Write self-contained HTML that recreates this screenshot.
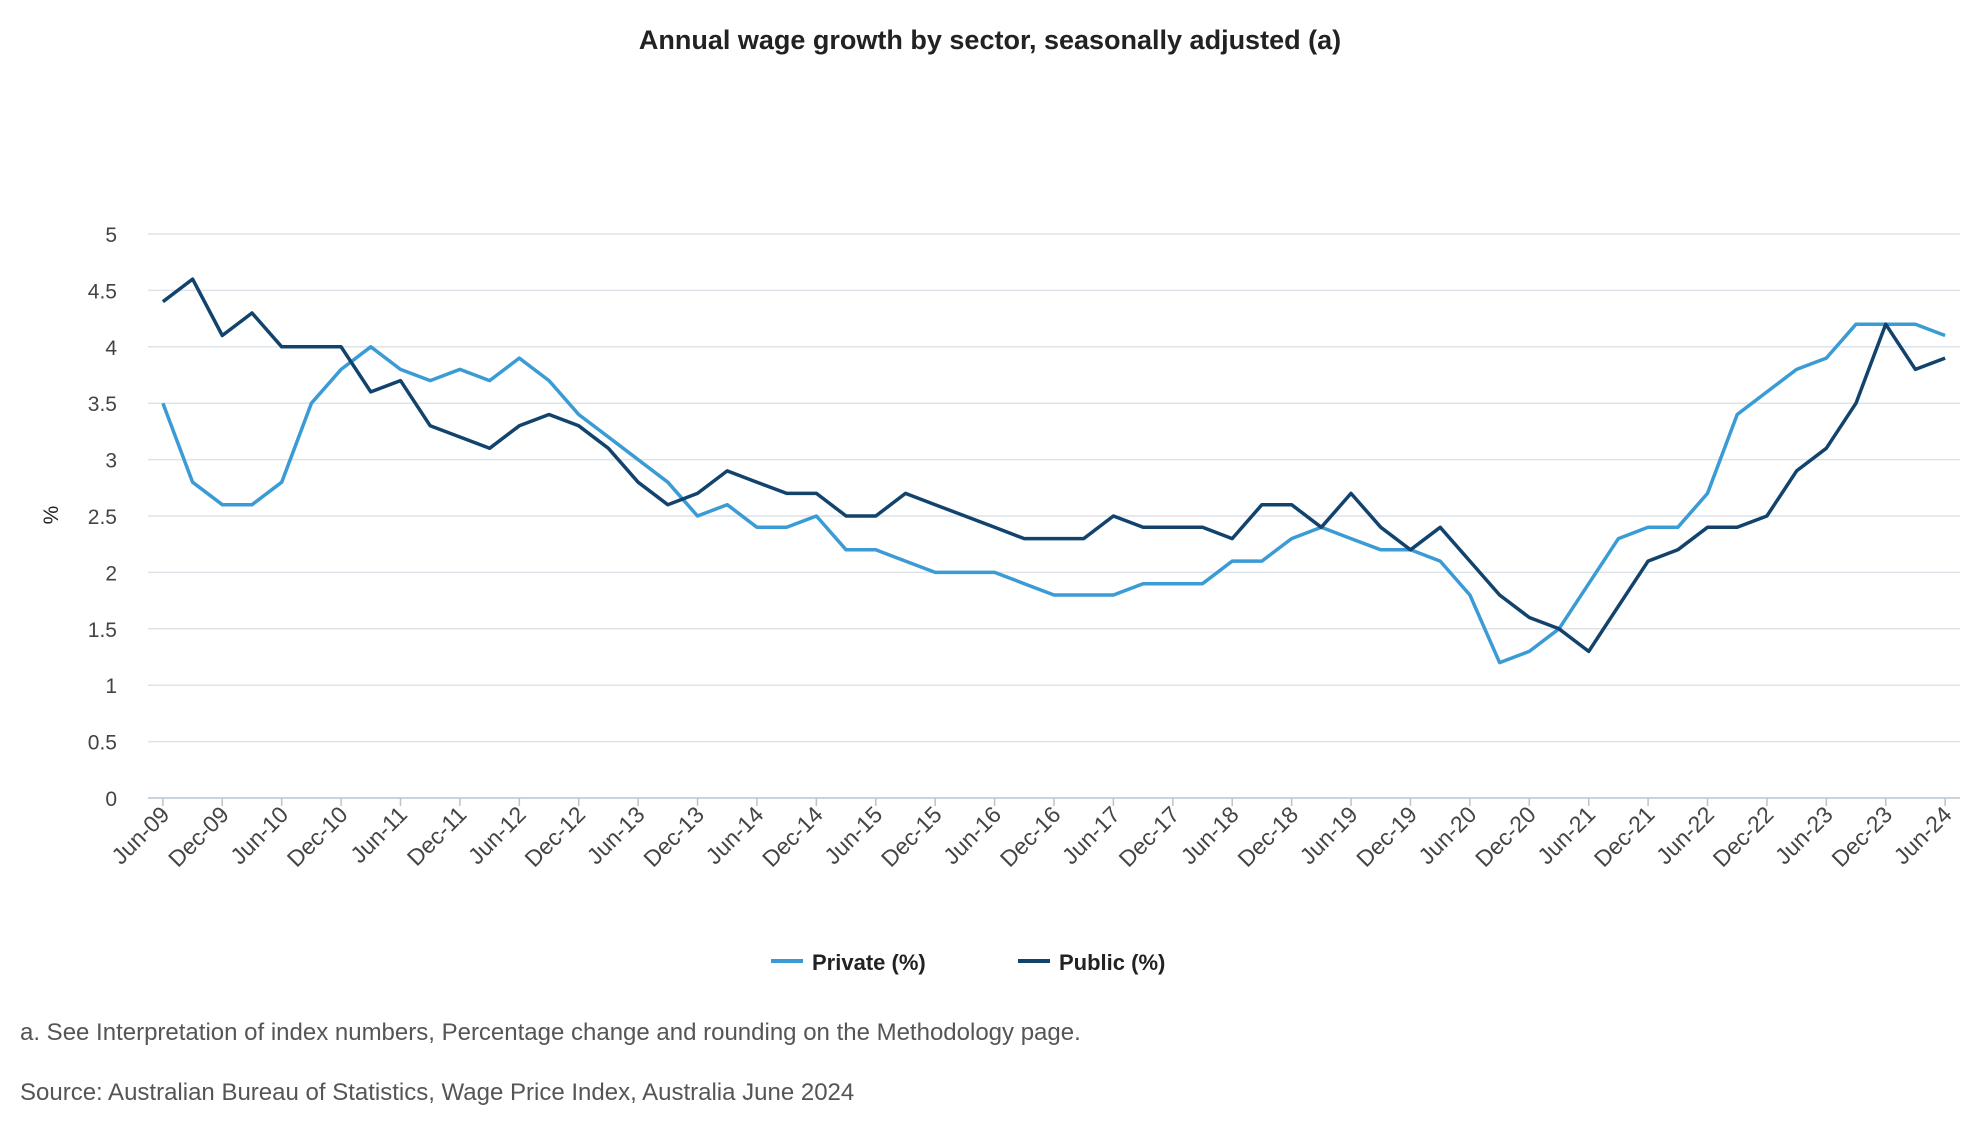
<!DOCTYPE html>
<html><head><meta charset="utf-8"><style>
html,body{margin:0;padding:0;background:#fff;}
svg{display:block;font-family:"Liberation Sans",sans-serif;}
</style></head><body>
<svg id="chart" width="1980" height="1140" viewBox="0 0 1980 1140" xmlns="http://www.w3.org/2000/svg">
<text x="990" y="49" text-anchor="middle" font-size="27" font-weight="bold" fill="#222">Annual wage growth by sector, seasonally adjusted (a)</text>
<g id="grid"></g>
<g id="yticks"></g>
<text transform="translate(58,515) rotate(-90)" text-anchor="middle" font-size="21" fill="#222">%</text>
<g id="xticks"></g>
<g id="series"></g>
<g>
<g><line x1="771" y1="961" x2="803" y2="961" stroke="#3a9bd5" stroke-width="4"/><text x="812" y="970" font-size="22" font-weight="bold" fill="#222">Private (%)</text></g>
<g><line x1="1018" y1="961" x2="1050" y2="961" stroke="#12436d" stroke-width="4"/><text x="1059" y="970" font-size="22" font-weight="bold" fill="#222">Public (%)</text></g>
</g>
<text x="20" y="1040" font-size="24" fill="#555">a. See Interpretation of index numbers, Percentage change and rounding on the Methodology page.</text>
<text x="20" y="1100" font-size="24" fill="#555">Source: Australian Bureau of Statistics, Wage Price Index, Australia June 2024</text>
</svg>
<script>
const privateVals=[3.5,2.8,2.6,2.6,2.8,3.5,3.8,4.0,3.8,3.7,3.8,3.7,3.9,3.7,3.4,3.2,3.0,2.8,2.5,2.6,2.4,2.4,2.5,2.2,2.2,2.1,2.0,2.0,2.0,1.9,1.8,1.8,1.8,1.9,1.9,1.9,2.1,2.1,2.3,2.4,2.3,2.2,2.2,2.1,1.8,1.2,1.3,1.5,1.9,2.3,2.4,2.4,2.7,3.4,3.6,3.8,3.9,4.2,4.2,4.2,4.1];
const publicVals=[4.4,4.6,4.1,4.3,4.0,4.0,4.0,3.6,3.7,3.3,3.2,3.1,3.3,3.4,3.3,3.1,2.8,2.6,2.7,2.9,2.8,2.7,2.7,2.5,2.5,2.7,2.6,2.5,2.4,2.3,2.3,2.3,2.5,2.4,2.4,2.4,2.3,2.6,2.6,2.4,2.7,2.4,2.2,2.4,2.1,1.8,1.6,1.5,1.3,1.7,2.1,2.2,2.4,2.4,2.5,2.9,3.1,3.5,4.2,3.8,3.9];
const yTicks=[0,0.5,1,1.5,2,2.5,3,3.5,4,4.5,5];
const yTickLabels=["0","0.5","1","1.5","2","2.5","3","3.5","4","4.5","5"];
const categories=[];
(function(){const m=["Jun","Sep","Dec","Mar"];let yr=9;for(let i=0;i<61;i++){const mo=m[i%4];if(mo==="Mar")yr++;categories.push(mo+"-"+String(yr).padStart(2,"0"));}})();
const NS="http://www.w3.org/2000/svg";
const L=148,R=1960,Y0=798,Y5=234;
const band=(R-L)/categories.length;
const xS=i=>L+band*(i+0.5);
const yS=v=>Y0-(Y0-Y5)*v/5;
function mk(tag,attrs,parent){const e=document.createElementNS(NS,tag);for(const k in attrs)e.setAttribute(k,attrs[k]);parent.appendChild(e);return e;}
const grid=document.getElementById('grid'),yt=document.getElementById('yticks'),xt=document.getElementById('xticks'),sg=document.getElementById('series');
yTicks.forEach((v,i)=>{
 const ln=mk('line',{x1:L,x2:R,y1:yS(v),y2:yS(v),stroke:v===0?'#b8c4d0':'#dde3e8','stroke-width':1.5},grid);
 
 
 const t=mk('text',{x:117,y:yS(v)+8,'text-anchor':'end','font-size':21,fill:'#444'},yt);
 t.textContent=yTickLabels[i];
 
 
});
categories.forEach((c,i)=>{
 if(i%2)return;
 const x=xS(i);
 const tk=mk('line',{x1:x,x2:x,y1:Y0,y2:Y0+8,stroke:'#b8c4d0','stroke-width':1.5},xt);
 
 
 const t=mk('text',{transform:`translate(${x+8},${Y0+18}) rotate(-45)`,'text-anchor':'end','font-size':23,fill:'#444'},xt);
 t.textContent=c;
 
 
});
function line(vals,color,name){
 const d=vals.map((v,i)=>(i?'L':'M')+xS(i).toFixed(1)+' '+yS(v).toFixed(1)).join(' ');
 const p=mk('path',{d:d,fill:'none',stroke:color,'stroke-width':3.5,'stroke-linejoin':'round'},sg);
 
 
}
line(privateVals,'#3a9bd5','private-line');
line(publicVals,'#12436d','public-line');
</script>
</body></html>
